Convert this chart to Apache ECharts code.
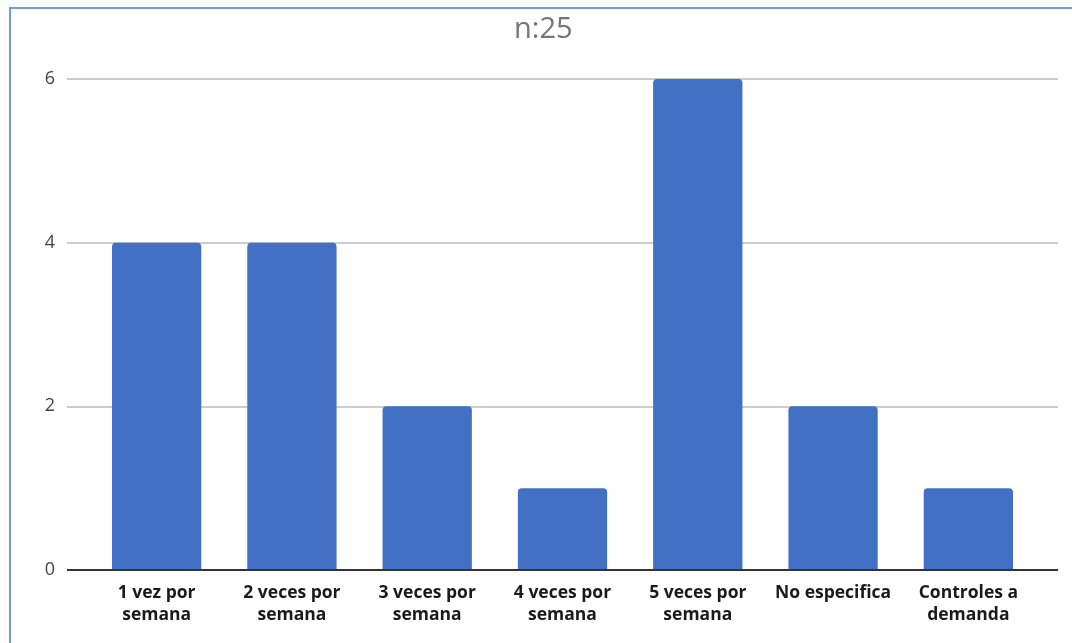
<!DOCTYPE html>
<html>
<head>
<meta charset="utf-8">
<script src="https://cdn.jsdelivr.net/npm/echarts@6/dist/echarts.min.js"></script>
<style>
  html, body { margin: 0; padding: 0; background: #fff; }
  #frame { position: absolute; left: 9px; top: 7px; width: 1063px; height: 636px;
           border-left: 2px solid #6d9eeb; border-top: 2px solid #6d9eeb; box-sizing: border-box; }
  #chart { position: absolute; left: 0; top: 0; width: 1072px; height: 643px; }
</style>
</head>
<body>
<div id="frame"></div>
<div id="chart"></div>
<script>
// Frecuencia de controles
const categories = [
  '1 vez por\nsemana',
  '2 veces por\nsemana',
  '3 veces por\nsemana',
  '4 veces por\nsemana',
  '5 veces por\nsemana',
  'No especifica',
  'Controles a\ndemanda'
];
const values = [4, 4, 2, 1, 6, 2, 1];
const yTicks = [0, 2, 4, 6];

const chart = echarts.init(document.getElementById('chart'), null, { renderer: 'canvas' });

const yMin = yTicks[0], yMax = yTicks[yTicks.length - 1], yStep = yTicks[1] - yTicks[0];

chart.setOption({
  animation: false,
  title: {
    text: 'n:25',
    left: 509,
    top: 10,
    textStyle: { fontFamily: 'Open Sans', fontSize: 29, fontWeight: 'normal', color: '#757575' }
  },
  grid: [
    // wide grid: gridlines, y labels, baseline
    { left: 67, right: 14, top: 79, bottom: 73 },
    // inner grid: bars and category labels
    { left: 89, right: 36, top: 79, bottom: 73 }
  ],
  xAxis: [
    {
      gridIndex: 0, type: 'value', min: 0, max: 1, show: true,
      axisLine: { show: false }, axisTick: { show: false }, axisLabel: { show: false },
      splitLine: { show: false }
    },
    {
      gridIndex: 1, type: 'category', data: categories,
      axisLine: { show: false }, axisTick: { show: false },
      axisLabel: {
        interval: 0, margin: 12, lineHeight: 22,
        fontFamily: 'Open Sans', fontSize: 17.5, fontWeight: 'bold', color: '#1a1a1a'
      }
    }
  ],
  yAxis: [
    {
      gridIndex: 0, type: 'value', min: yMin, max: yMax, interval: yStep,
      axisLine: { show: false }, axisTick: { show: false },
      axisLabel: { margin: 12, fontFamily: 'Open Sans', fontSize: 18, color: '#444' },
      splitLine: { lineStyle: { color: '#cccccc', width: 2 } }
    },
    {
      gridIndex: 1, type: 'value', min: yMin, max: yMax, interval: yStep,
      show: false
    }
  ],
  series: [
    {
      // baseline at zero across the full plot width
      type: 'line', xAxisIndex: 0, yAxisIndex: 0,
      data: [[0, 0], [1, 0]], symbol: 'none', silent: true,
      lineStyle: { color: '#333333', width: 2 }, z: 5
    },
    {
      type: 'bar', xAxisIndex: 1, yAxisIndex: 1,
      data: values, barWidth: '66%',
      itemStyle: { color: '#4270c4', borderRadius: [4, 4, 0, 0] },
      z: 3
    }
  ]
});
</script>
</body>
</html>
